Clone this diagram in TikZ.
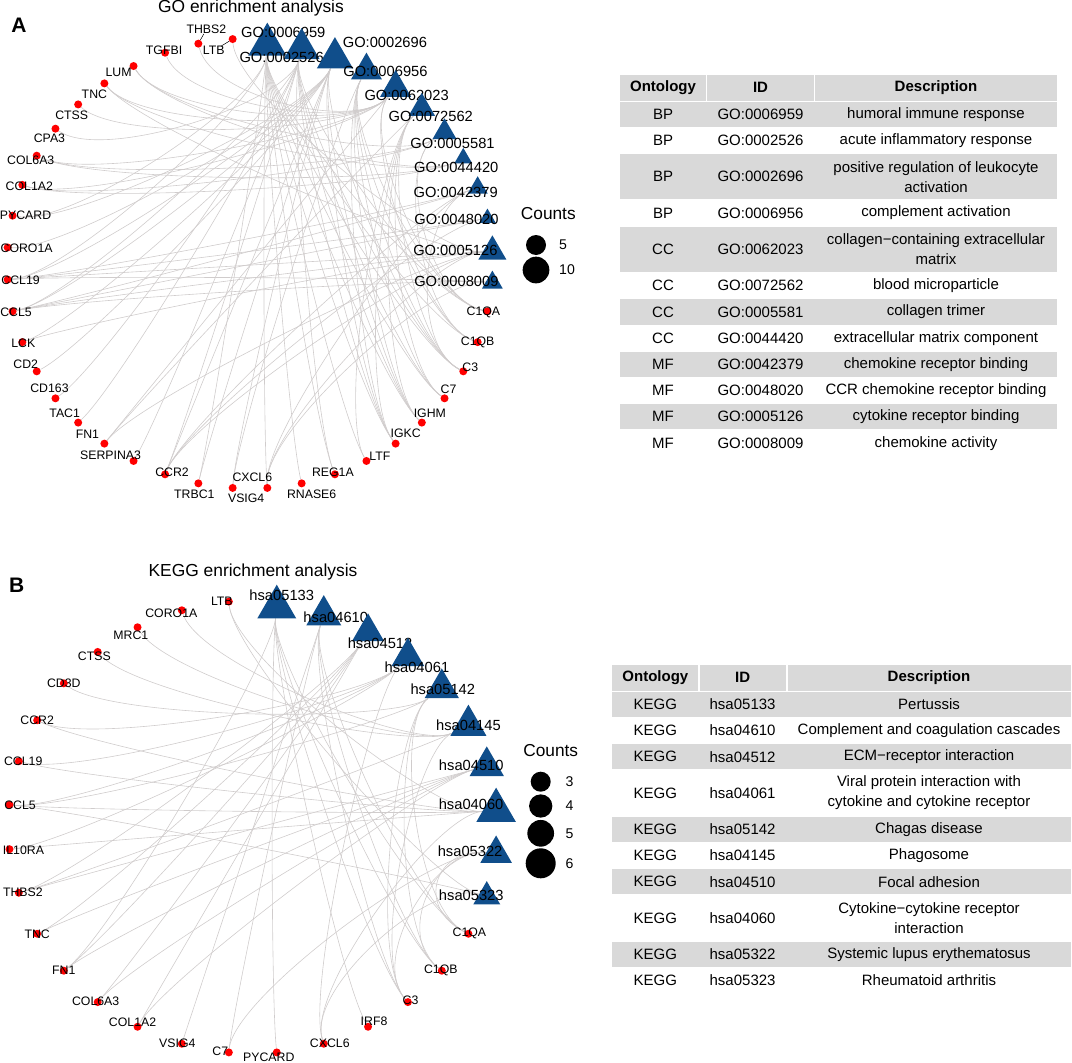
\documentclass[tikz,border=0pt]{standalone}
\usepackage{fontspec}
\setmainfont{Liberation Sans}
\usepackage{tikz}
\usetikzlibrary{shapes.geometric,backgrounds,calc}
\definecolor{termblue}{RGB}{16,78,139}
\definecolor{edgegray}{RGB}{208,204,204}
\definecolor{rowgray}{RGB}{217,217,217}
\tikzset{
	gene/.style={circle,fill=red,inner sep=0pt,minimum size=8},
	term/.style={regular polygon,regular polygon sides=3,fill=termblue,inner sep=0pt,minimum size={1.1547*#1}},
	keydot/.style={circle,fill=black,inner sep=0pt,minimum size=#1},
	link/.style={draw=edgegray,line width=0.6pt},
	genelab/.style={font=\fontsize{12.3}{14}\selectfont,inner sep=0pt},
	termlab/.style={font=\fontsize{14.7}{17}\selectfont,inner sep=0pt},
	title/.style={font=\fontsize{17.4}{20}\selectfont,inner sep=0pt},
	panel/.style={font=\fontsize{21}{24}\selectfont\bfseries,inner sep=0pt},
	keylab/.style={font=\fontsize{14.1}{16}\selectfont,inner sep=0pt},
	cell/.style={font=\fontsize{15}{19.7}\selectfont,align=center,inner sep=0pt},
	headcell/.style={font=\fontsize{15}{18}\selectfont\bfseries,inner sep=0pt}
}

\begin{document}
\begin{tikzpicture}[x=1pt,y=-1pt]
	\useasboundingbox (0,0) rectangle (1072,1063);

	% A: GO network
	\node[panel] (A) at (19,25) {A};
	\node[title] (titleA) at (251,8.3) {GO enrichment analysis};
	\coordinate (ac) at (250,263.5);
	\foreach \nm/\sz/\dx/\dy [count=\i from 0] in {0006959/38/16/-6.6,0002526/36/-20/13.3,0002696/36/50/-10,0006956/31/19/5,0062023/31/11/12.4,0072562/26.5/9/12.3,0005581/24/8/14.4,0044420/18/-7/11.7,0042379/20/-22/7.4,0048020/16.5/-31/3.3,0005126/28/-37/2.6,0008009/20.7/-36/1.7}{
		\pgfmathsetmacro\px{250+243*cos(85.909-8.1818*\i)}
		\pgfmathsetmacro\py{263.5-225*sin(85.909-8.1818*\i)}
		\node[term=\sz,yshift={-0.144*\sz}] (a-\nm) at (\px,\py) {};
		\node[termlab] (a-\nm-l) at (\px+\dx,\py+\dy) {GO:\nm};
	}
	\foreach \nm/\dx/\dy [count=\i from 12] in {C1QA/-4/0.6,C1QB/0/0,C3/7/-4.4,C7/4/-8.6,IGHM/8/-9.3,IGKC/10/-10.3,LTF/13.5/-5,REG1A/-2/-1.7,RNASE6/10/11,CXCL6/-15/-10.4,VSIG4/13.5/10.6,TRBC1/-4/11,CCR2/7/-1.7,SERPINA3/-23/-5.3,FN1/-17/-9.3,TAC1/-13.5/-9.3,CD163/-6/-10.3,CD2/-11/-6.7,LCK/1/0.7,CCL5/3.5/0.6,CCL19/13/1,CORO1A/19/1,PYCARD/13/0,COL1A2/7/1.6,COL6A3/-6/5,CPA3/-6/10,CTSS/-6.5/11.3,TNC/-10/10.7,LUM/-15/6,TGFBI/-1/-2.4,THBS2/8/-14.3,LTB/-19/11.6}{
		\pgfmathsetmacro\px{250+243*cos(85.909-8.1818*\i)}
		\pgfmathsetmacro\py{263.5-225*sin(85.909-8.1818*\i)}
		\node[gene] (a-\nm) at (\px,\py) {};
		\node[genelab] (a-\nm-l) at (\px+\dx,\py+\dy) {\nm};
	}
	\draw[line width=0.5pt] (a-THBS2) -- (a-THBS2-l);
	\draw[line width=0.5pt] (a-LTB) -- (a-LTB-l);
	\begin{scope}[on background layer]
		\foreach \t/\gl in {0006959/{C1QA,C1QB,C3,C7,IGHM,IGKC,LTF,REG1A,RNASE6,CXCL6,CCL19,TRBC1,PYCARD},
			0002526/{C1QA,C3,C7,IGHM,IGKC,SERPINA3,TAC1,CCR2,CD163,CCL5,REG1A,CPA3},
			0002696/{CCL19,CCL5,CCR2,CD2,LCK,PYCARD,CORO1A,IGHM,IGKC,C3,TRBC1,VSIG4},
			0006956/{C1QA,C1QB,C3,C7,IGHM,IGKC,VSIG4},
			0062023/{COL1A2,COL6A3,LUM,TNC,TGFBI,THBS2,FN1,C1QA,C1QB,CTSS},
			0072562/{C3,C7,IGHM,IGKC,FN1,LTF},
			0005581/{COL1A2,COL6A3,C1QA,C1QB,LUM},
			0044420/{COL1A2,COL6A3,LUM,TNC},
			0042379/{CCL19,CCL5,CXCL6,CCR2,C3},
			0048020/{CCL19,CCL5,CCR2},
			0005126/{CCL19,CCL5,CXCL6,LTB,FN1,LCK,TNC,CCR2},
			0008009/{CCL19,CCL5,CXCL6}}
		\foreach \g in \gl {\draw[link] (a-\g) .. controls ($(a-\g)!0.25!(ac)$) and ($(a-\t)!0.25!(ac)$) .. (a-\t);}
	\end{scope}

	% A: legend
	\node[font=\fontsize{17.3}{20}\selectfont,inner sep=0pt] (countsA) at (548.3,214) {Counts};
	\node[keydot=20] (kA1) at (536,245) {};
	\node[keydot=26.7] (kA2) at (536,270) {};
	\node[keylab,anchor=west] (kA1-l) at (559,245) {5};
	\node[keylab,anchor=west] (kA2-l) at (559,270) {10};

	% A: table
	\fill[rowgray] (620,75) rectangle (705.5,100.7);
	\fill[rowgray] (707,75) rectangle (813.5,100.7);
	\fill[rowgray] (815,75) rectangle (1057,100.7);
	\node[headcell] (tA-ho) at (663,87.8) {Ontology};
	\node[headcell] (tA-hi) at (760.5,87.8) {ID};
	\node[headcell] (tA-hd) at (936,87.8) {Description};
	\foreach \tp/\bt/\on/\id/\de/\f [count=\i] in {101.7/126.7/BP/GO:0006959/humoral immune response/rowgray,
		127.7/153.3/BP/GO:0002526/acute inflammatory response/white,
		154.3/199.3/BP/GO:0002696/{positive regulation of leukocyte\\activation}/rowgray,
		200/225.7/BP/GO:0006956/complement activation/white,
		226.7/271.7/CC/GO:0062023/{collagen−containing extracellular\\matrix}/rowgray,
		272.7/298/CC/GO:0072562/blood microparticle/white,
		299/324.7/CC/GO:0005581/collagen trimer/rowgray,
		325.3/351/CC/GO:0044420/extracellular matrix component/white,
		351.7/376.7/MF/GO:0042379/chemokine receptor binding/rowgray,
		377.3/403.3/MF/GO:0048020/CCR chemokine receptor binding/white,
		404/429.3/MF/GO:0005126/cytokine receptor binding/rowgray,
		430/456.7/MF/GO:0008009/chemokine activity/white}{
		\fill[\f] (620,\tp) rectangle (1057,\bt);
		\node[cell] (tA-o\i) at (663,{(\tp+\bt)/2}) {\on};
		\node[cell] (tA-i\i) at (760.5,{(\tp+\bt)/2}) {\id};
		\node[cell] (tA-d\i) at (936,{(\tp+\bt)/2}) {\de};
	}

	% B: KEGG network
	\node[panel] (B) at (16.8,585) {B};
	\node[title] (titleB) at (253,571.7) {KEGG enrichment analysis};
	\coordinate (bc) at (252.8,827);
	\foreach \nm/\sz/\dx/\dy [count=\i from 0] in {hsa05133/39/5/-6.7,hsa04610/35/12/7.3,hsa04512/32/12/15.7,hsa04061/32.7/9/15,hsa05142/34.4/1/6,hsa04145/36/0/5,hsa04510/34.4/-15.5/4,hsa04060/39.6/-25/-1,hsa05322/31.7/-26/2.4,hsa05323/27/-15.5/2.3}{
		\pgfmathsetmacro\px{252.8+244.5*cos(84.375-11.25*\i)}
		\pgfmathsetmacro\py{827-226.5*sin(84.375-11.25*\i)}
		\node[term=\sz,yshift={-0.144*\sz}] (b-\nm) at (\px,\py) {};
		\node[termlab] (b-\nm-l) at (\px+\dx,\py+\dy) {\nm};
	}
	\foreach \nm/\dx/\dy [count=\i from 10] in {C1QA/1/0,C1QB/-1/0,C3/2.6/-1.7,IRF8/6/-5,CXCL6/6/0,PYCARD/-8/5,C7/-8.6/-1.6,VSIG4/-4.5/0,COL1A2/-5/-4.4,COL6A3/-2/-0.7,FN1/0/0,TNC/0/0,THBS2/4/0,IL10RA/14/1,CCL5/10.5/0,CCL19/4.4/0,CCR2/0/0,CD3D/0/0,CTSS/-3.3/4.3,MRC1/-6.7/7.6,CORO1A/-10.5/2.7,LTB/-7/0}{
		\pgfmathsetmacro\px{252.8+244.5*cos(84.375-11.25*\i)}
		\pgfmathsetmacro\py{827-226.5*sin(84.375-11.25*\i)}
		\node[gene] (b-\nm) at (\px,\py) {};
		\node[genelab] (b-\nm-l) at (\px+\dx,\py+\dy) {\nm};
	}
	\begin{scope}[on background layer]
		\foreach \t/\gl in {hsa05133/{C1QA,C1QB,C3,PYCARD,IRF8,FN1},
			hsa04610/{C1QA,C1QB,C3,C7,VSIG4},
			hsa04512/{COL1A2,COL6A3,FN1,TNC,THBS2},
			hsa04061/{CCL5,CCL19,CCR2,CXCL6,IL10RA},
			hsa05142/{C1QA,C1QB,C3,CCL5,CD3D},
			hsa04145/{C3,CORO1A,CTSS,MRC1,THBS2},
			hsa04510/{COL1A2,COL6A3,FN1,TNC,THBS2},
			hsa04060/{CCL5,CCL19,CCR2,CXCL6,IL10RA,LTB},
			hsa05322/{C1QA,C1QB,C3,C7},
			hsa05323/{CCL5,CXCL6,LTB}}
		\foreach \g in \gl {\draw[link] (b-\g) .. controls ($(b-\g)!0.25!(bc)$) and ($(b-\t)!0.25!(bc)$) .. (b-\t);}
	\end{scope}

	% B: legend
	\node[font=\fontsize{17.3}{20}\selectfont,inner sep=0pt] (countsB) at (550.7,750.7) {Counts};
	\foreach \n/\y/\d in {3/781.7/20,4/806/23.3,5/833.3/26.7,6/863.3/30}{
		\node[keydot=\d] (kB\n) at (540.7,\y) {};
		\node[keylab,anchor=west] (kB\n-l) at (565.4,\y) {\n};
	}

	% B: table
	\fill[rowgray] (612,665) rectangle (698,690.7);
	\fill[rowgray] (699.5,665) rectangle (786,690.7);
	\fill[rowgray] (787.5,665) rectangle (1071,690.7);
	\node[headcell] (tB-ho) at (655.4,677.8) {Ontology};
	\node[headcell] (tB-hi) at (742.6,677.8) {ID};
	\node[headcell] (tB-hd) at (929,677.8) {Description};
	\foreach \tp/\bt/\id/\de/\f [count=\i] in {691.7/716.7/hsa05133/Pertussis/rowgray,
		717.3/743.3/hsa04610/Complement and coagulation cascades/white,
		744/769.3/hsa04512/ECM−receptor interaction/rowgray,
		770/815.7/hsa04061/{Viral protein interaction with\\cytokine and cytokine receptor}/white,
		816.7/841.7/hsa05142/Chagas disease/rowgray,
		842.3/868.3/hsa04145/Phagosome/white,
		869/894.3/hsa04510/Focal adhesion/rowgray,
		895/940.7/hsa04060/{Cytokine−cytokine receptor\\interaction}/white,
		941.7/967/hsa05322/Systemic lupus erythematosus/rowgray,
		967.7/993/hsa05323/Rheumatoid arthritis/white}{
		\fill[\f] (612,\tp) rectangle (1071,\bt);
		\node[cell] (tB-o\i) at (655.4,{(\tp+\bt)/2}) {KEGG};
		\node[cell] (tB-i\i) at (742.6,{(\tp+\bt)/2}) {\id};
		\node[cell] (tB-d\i) at (929,{(\tp+\bt)/2}) {\de};
	}
\end{tikzpicture}
\end{document}
